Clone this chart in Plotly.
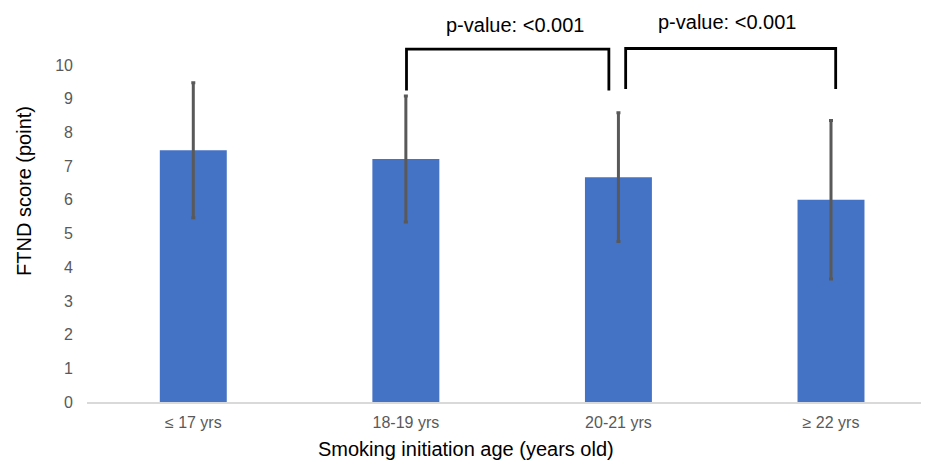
import plotly.graph_objects as go

categories = ["≤ 17 yrs", "18-19 yrs", "20-21 yrs", "≥ 22 yrs"]
means = [7.47, 7.21, 6.67, 6.00]
sds = [2.00, 1.87, 1.91, 2.35]
y_ticks = list(range(0, 11))
p_labels = ["p-value: <0.001", "p-value: <0.001"]

FONT = "Liberation Sans, Arial, sans-serif"
OFF = 8  # page body margin offset
W, H = 929 - OFF, 462 - OFF
L, R, T, B = 87 - OFF, 0, 0, 60
PX_PER_UNIT = 33.7

fig = go.Figure()
fig.add_trace(go.Bar(
    x=list(range(len(categories))), y=means,
    marker=dict(color="#4472C4", line=dict(width=0)),
    error_y=dict(type="data", array=sds, visible=True, color="#595959",
                 thickness=3, width=2),
    showlegend=False,
))

# significance brackets (category-index coordinates)
brackets = [
    dict(x0=1.003, x1=1.955, top=10.47, l=9.24, r=9.24, tx=1.513, ty=11.19, text=p_labels[0]),
    dict(x0=2.034, x1=3.022, top=10.49, l=9.29, r=9.29, tx=2.511, ty=11.28, text=p_labels[1]),
]
for b in brackets:
    fig.add_trace(go.Scatter(
        x=[b["x0"], b["x0"], b["x1"], b["x1"]],
        y=[b["l"], b["top"], b["top"], b["r"]],
        mode="lines", line=dict(color="#000000", width=2.8),
        showlegend=False, hoverinfo="skip",
    ))
    fig.add_annotation(x=b["tx"], y=b["ty"], xref="x", yref="y", text=b["text"],
                       showarrow=False, font=dict(family=FONT, size=20, color="#000000"))

plot_w = W - L - R
plot_h = H - T - B
fig.add_annotation(text="FTND score (point)", textangle=-90, showarrow=False,
                   xref="paper", yref="paper",
                   x=(24 - OFF - L) / plot_w, y=(H - B - (191 - OFF)) / plot_h,
                   xanchor="center", yanchor="middle",
                   font=dict(family=FONT, size=20, color="#000000"))
fig.add_annotation(text="Smoking initiation age (years old)", showarrow=False,
                   xref="paper", yref="paper",
                   x=(466 - OFF - L) / plot_w, y=-((449 - OFF) - (H - B)) / plot_h,
                   xanchor="center", yanchor="middle",
                   font=dict(family=FONT, size=20, color="#000000"))

fig.update_layout(
    width=W, height=H,
    margin=dict(l=L, r=R, t=T, b=B),
    paper_bgcolor="white", plot_bgcolor="white",
    bargap=0.685,
    font=dict(family=FONT),
    xaxis=dict(range=[-0.5, 3.461], tickvals=list(range(len(categories))),
               ticktext=categories, showgrid=False, zeroline=False,
               showline=True, linecolor="#D9D9D9", linewidth=1.5,
               ticks="", ticklabelstandoff=5,
               tickfont=dict(family=FONT, size=16, color="#595959")),
    yaxis=dict(range=[0, plot_h / PX_PER_UNIT], tickvals=y_ticks, showgrid=False,
               zeroline=False, showline=False, ticks="",
               ticklabelstandoff=13,
               tickfont=dict(family=FONT, size=16, color="#595959")),
)

fig.write_html("out.html")
